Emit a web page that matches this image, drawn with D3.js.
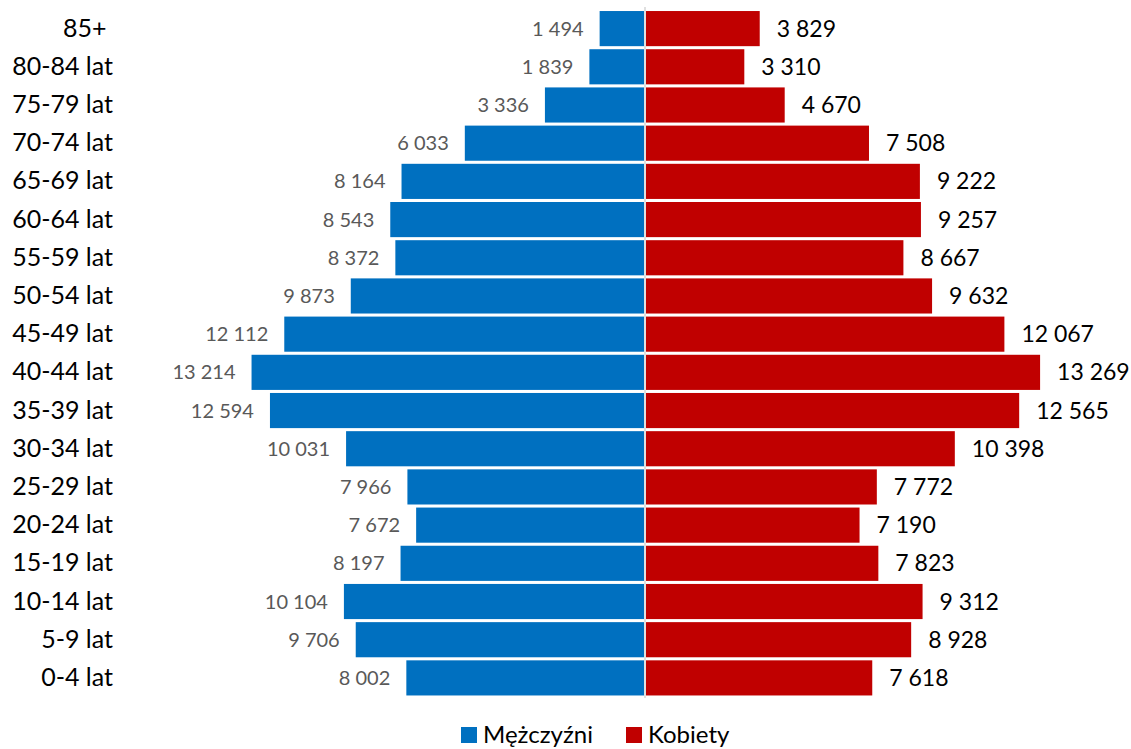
<!DOCTYPE html>
<html><head><meta charset="utf-8">
<script src="https://cdn.jsdelivr.net/npm/d3@7"></script>
<style>
body{margin:0;background:#fff;}
svg{font-family:Lato,"Open Sans",sans-serif;display:block;}
</style></head><body>
<svg id="chart" width="1131" height="749"></svg>
<script>
const categories = ["85+\u00a0","80-84 lat","75-79 lat","70-74 lat","65-69 lat","60-64 lat","55-59 lat","50-54 lat","45-49 lat","40-44 lat","35-39 lat","30-34 lat","25-29 lat","20-24 lat","15-19 lat","10-14 lat","5-9 lat","0-4 lat"];
const male = [1494,1839,3336,6033,8164,8543,8372,9873,12112,13214,12594,10031,7966,7672,8197,10104,9706,8002];
const female = [3829,3310,4670,7508,9222,9257,8667,9632,12067,13269,12565,10398,7772,7190,7823,9312,8928,7618];
const seriesNames = ["Mężczyźni","Kobiety"];
const colors = ["#0070C0","#C00000"];

const svg = d3.select("#chart");
const cx = 645;
const k = 0.0297;
const maxV = 14000;
const xM = d3.scaleLinear().domain([0,maxV]).range([cx-1, cx-1-maxV*k]);
const xF = d3.scaleLinear().domain([0,maxV]).range([cx+1, cx+1+maxV*k]);
const y = d3.scaleBand().domain(categories).range([9.5,697]).paddingInner(0.08).paddingOuter(0.04);

const loc = d3.formatLocale({decimal:",",thousands:" ",grouping:[3],currency:["",""]});
const fmt = loc.format(",d");

const rows = categories.map((c,i)=>({c, m:male[i], f:female[i]}));

svg.append("g").selectAll("rect").data(rows).join("rect")
  .attr("x", d=>xM(d.m)).attr("y", d=>y(d.c))
  .attr("width", d=>xM(0)-xM(d.m)).attr("height", y.bandwidth())
  .attr("fill", colors[0]);
svg.append("g").selectAll("rect").data(rows).join("rect")
  .attr("x", xF(0)).attr("y", d=>y(d.c))
  .attr("width", d=>xF(d.f)-xF(0)).attr("height", y.bandwidth())
  .attr("fill", colors[1]);

svg.append("line").attr("x1",cx).attr("x2",cx).attr("y1",7).attr("y2",698)
  .attr("stroke","#d9d9d9").attr("stroke-width",1.6);

svg.append("g").selectAll("text").data(rows).join("text")
  .attr("x", d=>xM(d.m)-16).attr("y", d=>y(d.c)+y.bandwidth()/2)
  .attr("dy","0.35em").attr("text-anchor","end")
  .attr("font-size",20).attr("fill","#595959").text(d=>fmt(d.m));
svg.append("g").selectAll("text").data(rows).join("text")
  .attr("x", d=>xF(d.f)+17).attr("y", d=>y(d.c)+y.bandwidth()/2)
  .attr("dy","0.35em").attr("text-anchor","start")
  .attr("font-size",23).attr("fill","#000").text(d=>fmt(d.f));

const ax = svg.append("g").attr("transform","translate(113,0)")
  .call(d3.axisLeft(y).tickSize(0).tickPadding(0));
ax.select(".domain").remove();
ax.selectAll("text").attr("font-size",25).attr("font-family","Lato,'Open Sans',sans-serif").attr("fill","#000");

const lg = svg.append("g");
const legendItems = [{n:seriesNames[0],c:colors[0],x:461},{n:seriesNames[1],c:colors[1],x:626}];
lg.selectAll("rect").data(legendItems).join("rect")
  .attr("x",d=>d.x).attr("y",727).attr("width",16).attr("height",16).attr("fill",d=>d.c);
lg.selectAll("text").data(legendItems).join("text")
  .attr("x",d=>d.x+22).attr("y",743)
  .attr("font-size",24).attr("fill","#000").text(d=>d.n);
</script>
</body></html>
